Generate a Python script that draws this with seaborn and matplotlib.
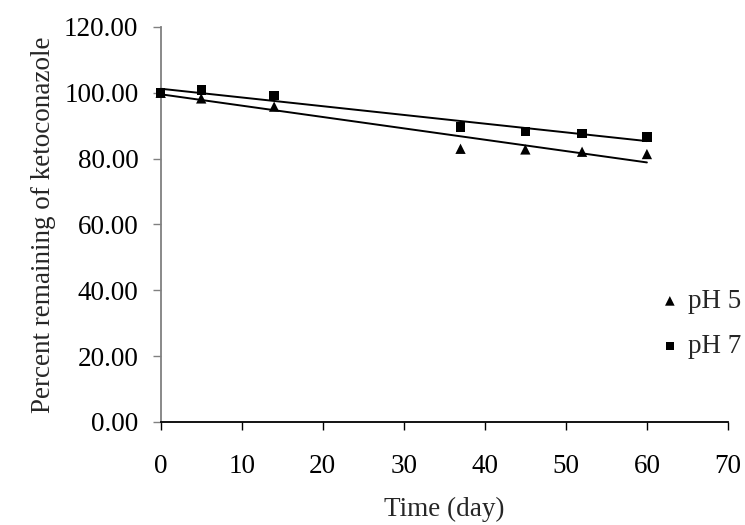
import numpy as np
import pandas as pd
import matplotlib
matplotlib.use("Agg")
import matplotlib.pyplot as plt
import seaborn as sns

# Ketoconazole stability over time at two pH values
days = [0, 5, 14, 37, 45, 52, 60]
ph5_remaining = [100.0, 98.3, 95.8, 83.0, 82.8, 82.1, 81.4]
ph7_remaining = [100.0, 100.9, 99.2, 89.6, 88.2, 87.7, 86.6]
series_labels = ["pH 5", "pH 7"]
x_ticks = [0, 10, 20, 30, 40, 50, 60, 70]
y_ticks = [0, 20, 40, 60, 80, 100, 120]

df = pd.DataFrame({
    "day": days * 2,
    "remaining": ph5_remaining + ph7_remaining,
    "series": [series_labels[0]] * len(days) + [series_labels[1]] * len(days),
})

sns.set_theme(style="white")
plt.rcParams["font.family"] = ["Liberation Serif", "DejaVu Serif"]

FS = 19.5
fig = plt.figure(figsize=(7.45, 5.25), dpi=100)
ax = fig.add_axes([0.2157, 0.1962, 0.7614, 0.7524])

markers = {"pH 5": "^", "pH 7": "s"}
sizes = {"pH 5": 55, "pH 7": 45}
legend_sizes = {"pH 5": 48, "pH 7": 36}
for name in series_labels:
    sub = df[df["series"] == name]
    sns.regplot(data=sub, x="day", y="remaining", ci=None, ax=ax,
                scatter=False, truncate=True,
                line_kws={"color": "black", "lw": 1.4, "zorder": 2})
    sns.scatterplot(data=sub, x="day", y="remaining", ax=ax,
                    marker=markers[name], color="black", s=sizes[name],
                    edgecolor="none", label=name, zorder=3, clip_on=False)

ax.set_xlim(0, 70)
ax.set_ylim(0, 120)
ax.set_xticks(x_ticks)
ax.set_yticks(y_ticks)
ax.set_yticklabels([f"{v:.2f}" for v in y_ticks])
ax.set_xlabel("Time (day)", fontsize=FS, labelpad=13)
ax.set_ylabel("Percent remaining of ketoconazole", fontsize=FS, labelpad=6)
ax.tick_params(axis="both", labelsize=FS, direction="out", length=6,
               width=1, labelcolor="black", left=True, bottom=True)
ax.tick_params(axis="y", pad=10, color="#808080")
ax.tick_params(axis="x", pad=17, color="black")

for side in ["top", "right"]:
    ax.spines[side].set_visible(False)
ax.spines["left"].set_color("#808080")
ax.spines["left"].set_linewidth(1.3)
ax.spines["bottom"].set_color("black")
ax.spines["bottom"].set_linewidth(1.3)

leg = ax.legend(loc="upper left", bbox_to_anchor=(659 / 745, 1 - 289 / 525),
                bbox_transform=fig.transFigure, frameon=False,
                fontsize=FS, handletextpad=0.27, labelspacing=0.74,
                handlelength=0.8, borderaxespad=0, borderpad=0)
for h, name in zip(leg.legend_handles, series_labels):
    h.set_sizes([legend_sizes[name]])

fig.savefig("out.png", dpi=100, facecolor="white")
